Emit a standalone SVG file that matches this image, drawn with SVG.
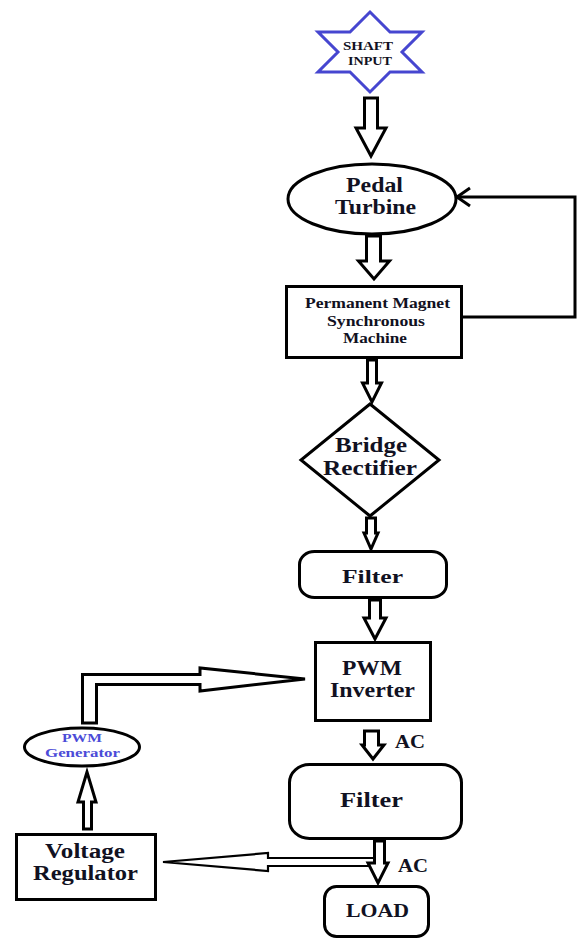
<svg xmlns="http://www.w3.org/2000/svg" width="582" height="940" viewBox="0 0 582 940">
<style>
.bg{fill:#ffffff}
.shape{fill:#ffffff;stroke:#000000;stroke-width:3;stroke-linejoin:miter}
.star{fill:#ffffff;stroke:#4646d0;stroke-width:3;stroke-linejoin:miter}
.arr{fill:#ffffff;stroke:#000000;stroke-width:3;stroke-linejoin:miter}
.thin{fill:#ffffff;stroke:#000000;stroke-width:2.2;stroke-linejoin:miter}
.line{fill:none;stroke:#000000;stroke-width:3}
text{font-family:"Liberation Serif","Times New Roman",serif;font-weight:bold;fill:#111122;text-anchor:middle}
.blue{fill:#4b4bd8}
</style>
<rect class="bg" x="0" y="0" width="582" height="940"/>
<g id="connectors">
<path class="arr" d="M364.5,98 H377.5 V128 H386 L371,156 L356,128 H364.5 Z"/>
<path class="arr" d="M366.5,236 H380.5 V261 H389.5 L374,279 L358.5,261 H366.5 Z"/>
<path class="line" d="M463,317 H575 V197 H458"/>
<path class="line" d="M470,188 L457,197 L470,206"/>
<path class="arr" d="M367.5,360 H376.5 V383 H381.5 L372,402 L362.5,383 H367.5 Z"/>
<path class="arr" d="M366.5,518 H375.5 V533 H378 L371,549 L364,533 H366.5 Z"/>
<path class="arr" d="M369.5,600 H380.5 V618 H386 L375,639 L364,618 H369.5 Z"/>
<path class="arr" d="M364.5,731 H378.5 V745 H384 L373,759 L362,745 H364.5 Z"/>
<path class="thin" d="M374.5,858 H268 V853 L163,862 L268,871 V866 H374.5"/>
<path class="arr" d="M374.5,841 H384.5 V863 H388 L378,883 L368,863 H374.5 Z"/>
<path class="arr" d="M83.5,829 V802 H78 L87,772 L96,802 H91.5 V829 Z"/>
<path class="arr" d="M82.5,723 V674.5 H200 V668 L305,679 L200,691 V684.5 H96.5 V723 Z"/>
</g>
<g id="shaft-input">
<polygon class="star" points="370,12 390,32 422,32 402,52 422,72 390,72 370,92 350,72 318,72 338,52 318,32 350,32"/>
<text x="368" y="50" font-size="13" textLength="50" lengthAdjust="spacingAndGlyphs">SHAFT</text>
<text x="370" y="65" font-size="13" textLength="44" lengthAdjust="spacingAndGlyphs">INPUT</text>
</g>
<g id="pedal-turbine">
<ellipse class="shape" cx="372" cy="199" rx="84" ry="35"/>
<text x="374.5" y="192" font-size="21" textLength="57" lengthAdjust="spacingAndGlyphs">Pedal</text>
<text x="375.5" y="214" font-size="21" textLength="81" lengthAdjust="spacingAndGlyphs">Turbine</text>
</g>
<g id="pmsm">
<rect class="shape" x="286.5" y="286.5" width="175" height="71"/>
<text x="377.5" y="308" font-size="15" textLength="145" lengthAdjust="spacingAndGlyphs">Permanent Magnet</text>
<text x="376" y="326" font-size="15" textLength="98" lengthAdjust="spacingAndGlyphs">Synchronous</text>
<text x="375" y="343" font-size="15" textLength="64" lengthAdjust="spacingAndGlyphs">Machine</text>
</g>
<g id="bridge-rectifier">
<polygon class="shape" points="370,404 439,460 370,516 301,460"/>
<text x="371" y="452" font-size="21" textLength="72" lengthAdjust="spacingAndGlyphs">Bridge</text>
<text x="370" y="475" font-size="21" textLength="94" lengthAdjust="spacingAndGlyphs">Rectifier</text>
</g>
<g id="filter-dc">
<rect class="shape" x="299.5" y="551.5" width="147" height="46" rx="15" ry="13"/>
<text x="372.5" y="583" font-size="19" textLength="61" lengthAdjust="spacingAndGlyphs">Filter</text>
</g>
<g id="pwm-inverter">
<rect class="shape" x="315.5" y="642.5" width="115" height="78"/>
<text x="372" y="675" font-size="21" textLength="60" lengthAdjust="spacingAndGlyphs">PWM</text>
<text x="372.5" y="697" font-size="21" textLength="85" lengthAdjust="spacingAndGlyphs">Inverter</text>
</g>
<g id="label-ac-1">
<text x="410" y="748" font-size="19" textLength="30" lengthAdjust="spacingAndGlyphs">AC</text>
</g>
<g id="pwm-generator">
<ellipse class="shape" cx="82" cy="747" rx="57.5" ry="19"/>
<text class="blue" x="82" y="742" font-size="13" textLength="40" lengthAdjust="spacingAndGlyphs">PWM</text>
<text class="blue" x="82.5" y="757" font-size="13" textLength="75" lengthAdjust="spacingAndGlyphs">Generator</text>
</g>
<g id="filter-ac">
<rect class="shape" x="289.5" y="764.5" width="172" height="74" rx="20" ry="18"/>
<text x="371.5" y="807" font-size="21" textLength="63" lengthAdjust="spacingAndGlyphs">Filter</text>
</g>
<g id="label-ac-2">
<text x="413" y="872" font-size="19" textLength="30" lengthAdjust="spacingAndGlyphs">AC</text>
</g>
<g id="voltage-regulator">
<rect class="shape" x="16.5" y="834.5" width="139" height="65"/>
<text x="85" y="858" font-size="20" textLength="80" lengthAdjust="spacingAndGlyphs">Voltage</text>
<text x="85.5" y="880" font-size="20" textLength="105" lengthAdjust="spacingAndGlyphs">Regulator</text>
</g>
<g id="load">
<rect class="shape" x="324.5" y="886.5" width="104" height="50" rx="12" ry="12"/>
<text x="377.5" y="917" font-size="19" textLength="63" lengthAdjust="spacingAndGlyphs">LOAD</text>
</g>
</svg>
